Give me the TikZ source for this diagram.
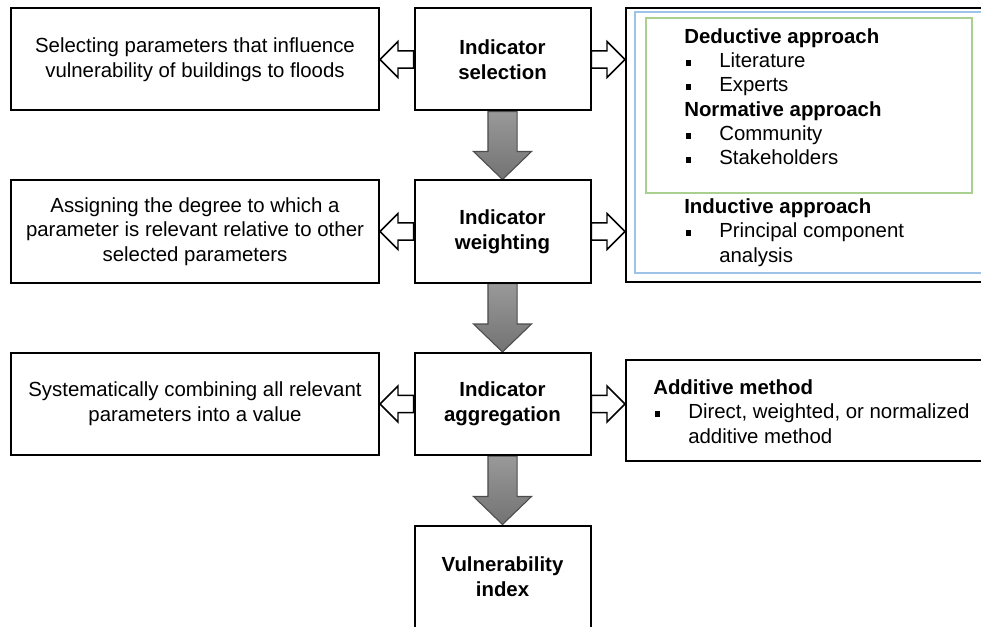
\documentclass[tikz,border=0pt]{standalone}
\usepackage{fontspec}
\setmainfont{Liberation Sans}
\usetikzlibrary{calc,backgrounds}
\definecolor{boxgreen}{RGB}{169,208,142}
\definecolor{boxblue}{RGB}{157,195,230}
\newcommand{\figfont}{\fontsize{15.3}{18.5}\selectfont}
\newcommand{\sqb}{\makebox[26.25pt][l]{\hspace{1.2pt}\rule[1.3pt]{4.2pt}{4.2pt}}}
\begin{document}
\begin{tikzpicture}[x=0.75pt, y=-0.75pt, font=\figfont, line join=miter,
	box/.style={draw, line width=1.5pt, minimum height=76.5pt, align=center, inner sep=0pt},
	desc/.style={box, minimum width=276pt},
	stage/.style={box, minimum width=132pt, font=\figfont\bfseries},
	list/.style={align=left, inner sep=0pt, font=\fontsize{15.3}{18.25}\selectfont},
	blockarrow/.style n args={3}{to path={($(\tikztotarget)!#3!(\tikztostart)$) coordinate (hb)
		($(\tikztostart)!#1!90:(\tikztotarget)$) -- ($(hb)!#1!90:(\tikztotarget)$)
		-- ($(hb)!#2!90:(\tikztotarget)$) -- (\tikztotarget)
		-- ($(hb)!#2!-90:(\tikztotarget)$) -- ($(hb)!#1!-90:(\tikztotarget)$)
		-- ($(\tikztostart)!#1!-90:(\tikztotarget)$) -- cycle}},
	hollow/.style={draw, line width=1.1pt, fill=white, blockarrow={6.4pt}{13.5pt}{13.5pt}},
	flow/.style={draw=black!70, line width=0.8pt, top color=black!40, bottom color=black!55, blockarrow={10.9pt}{21.75pt}{21pt}}]
	\useasboundingbox (0,0) rectangle (981,627);
	\clip (0,0) rectangle (981,627);
	% middle column
	\node[stage] (sel) at (502.5,59.5) {Indicator\\selection};
	\node[stage] (wgt) at (502.5,231.5) {Indicator\\weighting};
	\node[stage] (agg) at (502.5,404) {Indicator\\aggregation};
	\node[stage] (vul) at (502.5,576.5) {Vulnerability\\index};
	% left column
	\node[desc] (selL) at (195,59.5) {Selecting parameters that influence\\vulnerability of buildings to floods};
	\node[desc] (wgtL) at (195,231.5) {Assigning the degree to which a\\parameter is relevant relative to other\\selected parameters};
	\node[desc] (aggL) at (195,404) {Systematically combining all relevant\\parameters into a value};
	% right column
	\node[box, minimum width=277.5pt, minimum height=205.5pt] (apr) at (811,145) {};
	\draw[boxblue, line width=1.1pt] (635,12) rectangle (1000,273);
	\draw[boxgreen, line width=1.1pt] (646,18) rectangle (972,193);
	\node[list, anchor=north west] (aprtxt) at (684,28) {\textbf{Deductive approach}\\
		\sqb Literature\\
		\sqb Experts\\
		\textbf{Normative approach}\\
		\sqb Community\\
		\sqb Stakeholders\\[18.25pt]
		\textbf{Inductive approach}\\
		\sqb Principal component\\
		\hspace*{26.25pt}analysis};
	\node[box, minimum width=277.5pt, minimum height=75.75pt] (add) at (811,410.5) {};
	\node[list, anchor=west] (addtxt) at (653,411.5) {\textbf{Additive method}\\
		\sqb Direct, weighted, or normalized\\
		\hspace*{26.25pt}additive method};
	\begin{scope}[on background layer]
		\draw[flow] (sel.south) to (wgt.north);
		\draw[flow] (wgt.south) to (agg.north);
		\draw[flow] (agg.south) to (vul.north);
		\foreach \s in {sel,wgt,agg}
			\draw[hollow] (\s.west) to (\s L.east);
		\draw[hollow] (sel.east) to (sel.east -| apr.west);
		\draw[hollow] (wgt.east) to (wgt.east -| apr.west);
		\draw[hollow] (agg.east) to (agg.east -| add.west);
	\end{scope}
\end{tikzpicture}
\end{document}
